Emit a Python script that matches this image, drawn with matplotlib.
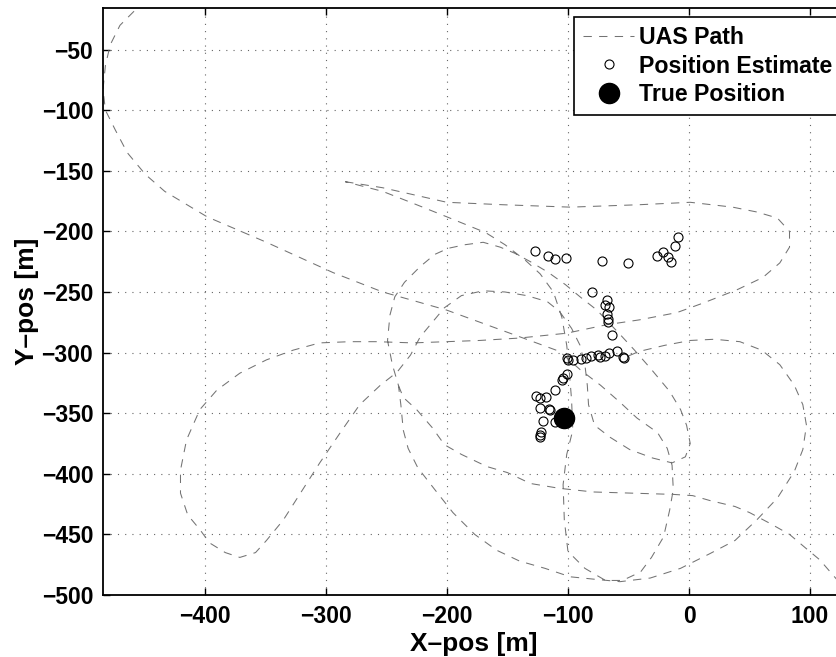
import numpy as np
import matplotlib.pyplot as plt

plt.rcParams['font.family'] = ['Liberation Sans', 'DejaVu Sans']
plt.rcParams['font.weight'] = 'bold'

# UAS flight path in pieces (x, y in metres)
seg_a_x = [-448, -456, -470, -478, -482, -484, -482, -474, -464, -449, -433, -398, -349, -294,
           -253, -228, -200, -167, -137, -107, -90, -73, -57, -43, -26, -18, -14, -13, -16, -21,
           -31, -40, -55, -69, -86, -100, -103, -104, -101, -96, -97, -99, -101, -105, -112,
           -123, -135, -152, -168, -200, -230, -253, -284]
seg_a_y = [-5, -16, -30, -46, -63, -83, -100, -116, -135, -153, -167, -188, -209, -234,
           -250, -257, -265, -277, -288, -299, -314, -327, -341, -354, -366, -379, -393, -413, -430, -452,
           -469, -481, -488, -488, -478, -464, -438, -409, -384, -364, -339, -314, -294, -271, -250,
           -235, -224, -211, -201, -188, -176, -167, -159]

seg_b_x = [-284, -253, -200, -154, -98, -41, 1, 36, 56, 73, 83, 83, 75, 61, 40, 12, -10, -41,
           -68, -101, -140, -173, -200, -228, -258, -280, -305, -327, -349, -371, -390, -404,
           -415, -420, -420, -414, -404, -396, -383, -371, -358, -349, -335, -321, -305, -288,
           -272, -255, -241, -230, -222, -212, -202, -188, -170, -152, -134, -117, -107, -97,
           -90, -86, -84, -83, -78, -65, -49, -30, -14, -3, 1, -2, -7, -16, -31, -45, -57, -76,
           -90, -102, -116, -131, -144, -156, -170, -185, -199, -210, -222, -235, -243, -247,
           -249, -245, -240, -238, -236, -232, -224, -210, -195, -177, -159, -140, -119, -98,
           -78, -57, -32, -7, 17, 38, 56, 73, 87, 94, 97, 94, 87, 75, 60, 42, 21, 1, -20, -41, -53]
seg_b_y = [-159, -164, -176, -178, -180, -178, -176, -180, -184, -189, -200, -213, -226, -238,
           -248, -259, -267, -273, -277, -284, -288, -290, -291, -292, -291, -291, -292, -298,
           -306, -317, -331, -347, -372, -397, -416, -434, -446, -457, -465, -469, -465, -455,
           -438, -416, -391, -366, -343, -327, -316, -302, -287, -275, -263, -253, -249, -250,
           -253, -258, -266, -280, -294, -310, -327, -343, -360, -370, -380, -387, -391, -386,
           -375, -360, -347, -332, -314, -298, -285, -265, -254, -244, -234, -225, -218, -213,
           -209, -211, -214, -219, -229, -242, -254, -269, -290, -310, -327, -343, -364, -379,
           -395, -413, -432, -450, -463, -472, -478, -485, -487, -489, -486, -478, -466, -455,
           -438, -420, -398, -380, -360, -343, -327, -310, -298, -291, -289, -290, -294, -299, -304]

seg_c_x = [-240, -236, -225, -212, -202, -188, -167, -150, -131, -107, -79, -46, -13, 3, 17,
           38, 50, 67, 83, 96, 108, 121, 128]
seg_c_y = [-327, -337, -347, -362, -376, -384, -394, -399, -408, -412, -415, -416, -417, -418,
           -422, -427, -432, -441, -450, -461, -471, -486, -494]

# position estimates
est_x = [-127.2, -116.3, -111.1, -101.6, -71.5, -50.2, -26.7, -21.5, -17.0, -15.1, -11.8, -8.7,
         -80.2, -67.8, -69.4, -66.1, -67.4, -66.7, -66.7, -63.9,
         -100.8, -100.0, -95.6, -89.2, -84.9, -81.0, -75.0, -73.2, -69.4, -66.1, -59.8, -53.7, -54.3,
         -101.1, -103.9, -105.2, -110.7, -126.2, -122.7, -118.2, -122.7, -115.9, -114.9,
         -120.9, -110.3, -121.9, -122.7, -123.1]
est_y = [-216.1, -220.2, -222.9, -221.6, -224.6, -226.0, -220.5, -217.2, -220.8, -225.4, -212.0, -204.7,
         -249.9, -256.5, -260.6, -262.7, -268.1, -272.6, -274.4, -285.4,
         -304.6, -306.3, -306.0, -305.4, -304.1, -303.1, -302.1, -303.3, -302.7, -300.2, -298.4, -304.6, -303.3,
         -318.0, -321.1, -322.9, -330.8, -335.7, -337.1, -336.4, -345.9, -346.5, -347.7,
         -356.1, -357.6, -365.8, -368.3, -369.6]

true_x = [-103]
true_y = [-354]

xticks = [-400, -300, -200, -100, 0, 100]
yticks = [-500, -450, -400, -350, -300, -250, -200, -150, -100, -50]

path_x = seg_a_x + [np.nan] + seg_b_x + [np.nan] + seg_c_x
path_y = seg_a_y + [np.nan] + seg_b_y + [np.nan] + seg_c_y

fig = plt.figure(figsize=(8.36, 6.57), dpi=100)
ax = fig.add_axes([103 / 836, 62 / 657, 741 / 836, 587 / 657])

ax.plot(path_x, path_y, color='0.45', lw=0.75, linestyle=(0, (8, 7)), label='UAS Path')
ax.plot(est_x, est_y, 'o', mfc='none', mec='k', ms=6.5, mew=0.8, label='Position Estimate')
ax.plot(true_x, true_y, 'o', color='k', ms=14.5, label='True Position')

ax.set_xlim(-484, 128)
ax.set_ylim(-500, -15.7)
ax.set_xticks(xticks)
ax.set_yticks(yticks)
ax.grid(True, linestyle=(0, (1, 5.5)), color='0.4', lw=0.8)
ax.set_axisbelow(True)
ax.tick_params(direction='in', length=5, width=1, top=True, right=True, labelsize=16.5, pad=7)
for s in ax.spines.values():
    s.set_linewidth(1.3)

ax.set_xlabel('X–pos [m]', fontsize=19, fontweight='bold', labelpad=3)
ax.set_ylabel('Y–pos [m]', fontsize=19, fontweight='bold', labelpad=2)

leg = ax.legend(loc='upper left', bbox_to_anchor=(574 / 836, 1 - 17 / 657),
                bbox_transform=fig.transFigure, borderaxespad=0, fancybox=False,
                edgecolor='k', framealpha=1, fontsize=16.7, handlelength=2.2,
                labelspacing=0.23, borderpad=0.4, handletextpad=0.2)
leg.get_frame().set_linewidth(1.2)

fig.savefig('out.png', dpi=100)
